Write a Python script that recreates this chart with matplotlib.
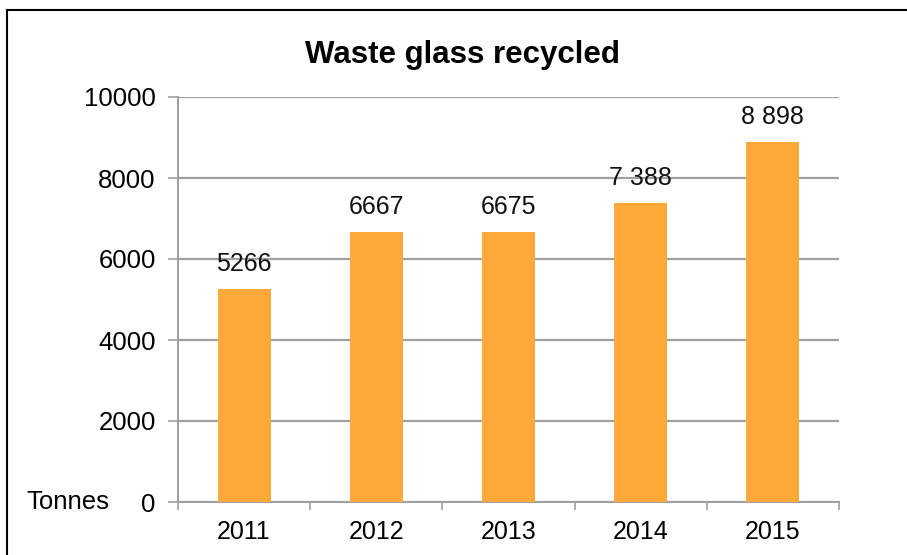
import matplotlib
matplotlib.use("Agg")
import matplotlib.pyplot as plt

years = ["2011", "2012", "2013", "2014", "2015"]
values = [5266, 6667, 6675, 7388, 8898]
value_labels = ["5266", "6667", "6675", "7 388", "8 898"]
yticks = [0, 2000, 4000, 6000, 8000, 10000]

plt.rcParams['font.family'] = ['Liberation Sans', 'DejaVu Sans']

W, H = 907, 555
fig = plt.figure(figsize=(W/100, H/100), dpi=100)
ax = fig.add_axes([178/W, 1-502/H, (839-178)/W, (502-97)/H])

x = list(range(len(years)))
bar_color = '#FFA93A'
ax.bar(x, values, width=0.4, color=bar_color, zorder=3)
for xi, v, lab in zip(x, values, value_labels):
    ax.annotate(lab, (xi, v), xytext=(0, 9), textcoords='offset points',
                ha='center', va='bottom', fontsize=18, color='#111111')

ax.set_xlim(-0.5, len(years)-0.5)
ax.set_ylim(0, 10000)
ax.set_yticks(yticks)
ax.set_yticklabels([str(t) for t in yticks])
ax.grid(axis='y', color='#a0a0a0', lw=1.6, zorder=0)
ax.set_xticks([i-0.5 for i in range(len(years)+1)])
ax.set_xticklabels([''] * (len(years)+1))
ax.set_xticks(x, minor=True)
ax.set_xticklabels(years, minor=True)
ax.tick_params(axis='x', which='minor', length=0, pad=13, labelsize=18)
ax.tick_params(axis='x', which='major', length=6, color='#a0a0a0', width=1.2, direction='out')
ax.tick_params(axis='y', length=7, color='#a0a0a0', width=1.2, pad=9, labelsize=18.5)
for s in ['top', 'right']:
    ax.spines[s].set_visible(False)
for s in ['left', 'bottom']:
    ax.spines[s].set_color('#a0a0a0')
    ax.spines[s].set_linewidth(1.4)

fig.text(462/W, 1-55/H, "Waste glass recycled", ha='center', va='center',
         fontsize=22.5, fontweight='bold')
fig.text(26/W, 1-502/H, "Tonnes", ha='left', va='center', fontsize=18.5)

# figure frame: top and left edges
fig.add_artist(plt.Line2D([7/W, 7/W], [0, 1-10/H], transform=fig.transFigure, color='black', lw=1.5))
fig.add_artist(plt.Line2D([7/W, 1], [1-10/H, 1-10/H], transform=fig.transFigure, color='black', lw=1.5))

fig.savefig('out.png', dpi=100)
